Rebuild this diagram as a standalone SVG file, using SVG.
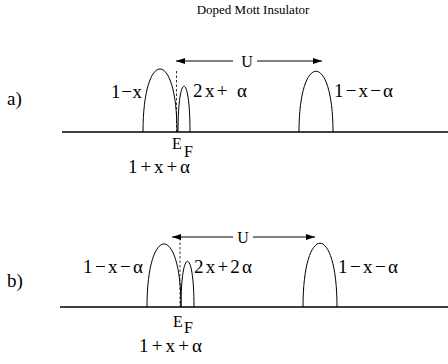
<svg xmlns="http://www.w3.org/2000/svg" width="448" height="364" viewBox="0 0 448 364" font-family="'Liberation Serif','Times New Roman',serif">
<style>
text{font-family:'Liberation Serif','Times New Roman',serif;fill:#000}
.t{font-size:19px}
.s{font-size:16px}
.h{font-size:13px}
.axis{stroke:#000;stroke-width:1.5;fill:none}
.band{stroke:#000;stroke-width:1;fill:none}
.dash{stroke:#000;stroke-width:0.8;stroke-dasharray:2.5,2;fill:none}
.arr{stroke:#000;stroke-width:1;fill:none;marker-end:url(#ah)}
</style>
<defs>
<marker id="ah" markerUnits="userSpaceOnUse" markerWidth="9" markerHeight="6" refX="9" refY="3" orient="auto">
<path d="M0,0 L9,3 L0,6 z" fill="#000"/>
</marker>
</defs>
<text id="title" class="h" x="253" y="14" text-anchor="middle">Doped Mott Insulator</text>
<g id="panel-a">
<g id="a-label"><text class="t" x="7" y="105">a)</text></g>
<g id="a-axis"><line class="axis" x1="62" y1="132" x2="448" y2="132"/></g>
<g id="a-lower-band"><path class="band" d="M143,132 C143,48 177,48 177,132"/><text class="t" x="111" y="98" textLength="31" lengthAdjust="spacing">1−x</text></g>
<g id="a-mid-band"><path class="band" d="M178,132 C178,71 190,71 190,132"/><text class="t" x="193" y="97" textLength="54" lengthAdjust="spacing">2x+ α</text></g>
<g id="a-upper-band"><path class="band" d="M299,132 C299,51 333,51 333,132"/><text class="t" x="334" y="97" textLength="59" lengthAdjust="spacing">1−x−α</text></g>
<g id="a-ef"><text class="s" x="172" y="149">E</text><text class="s" x="184" y="157">F</text><text class="t" x="128" y="173" textLength="62" lengthAdjust="spacing">1+x+α</text></g>
</g>
<g id="panel-b">
<g id="b-label"><text class="t" x="7" y="287">b)</text></g>
<g id="b-axis"><line class="axis" x1="60" y1="307" x2="448" y2="307"/></g>
<g id="b-lower-band"><path class="band" d="M147,307 C147,223 181,223 181,307"/><text class="t" x="83" y="273" textLength="60" lengthAdjust="spacing">1−x−α</text></g>
<g id="b-mid-band"><path class="band" d="M181,307 C181,246 194,246 194,307"/><text class="t" x="194" y="273" textLength="58" lengthAdjust="spacing">2x+2α</text></g>
<g id="b-upper-band"><path class="band" d="M303,307 C303,222 337,222 337,307"/><text class="t" x="338" y="273" textLength="60" lengthAdjust="spacing">1−x−α</text></g>
<g id="b-ef"><text class="s" x="173" y="327">E</text><text class="s" x="184" y="333">F</text><text class="t" x="139" y="352" textLength="63" lengthAdjust="spacing">1+x+α</text></g>
</g>
<g id="connectors">
<line class="dash" x1="176.5" y1="71" x2="176.5" y2="132"/>
<line class="arr" x1="233" y1="61" x2="176" y2="61"/>
<line class="arr" x1="257" y1="61" x2="322" y2="61"/>
<text class="s" x="247" y="67" text-anchor="middle">U</text>
<line class="dash" x1="180" y1="238" x2="180" y2="307"/>
<line class="arr" x1="233" y1="237" x2="172" y2="237"/>
<line class="arr" x1="253" y1="237" x2="315" y2="237"/>
<text class="s" x="243" y="243" text-anchor="middle">U</text>
</g>
</svg>
